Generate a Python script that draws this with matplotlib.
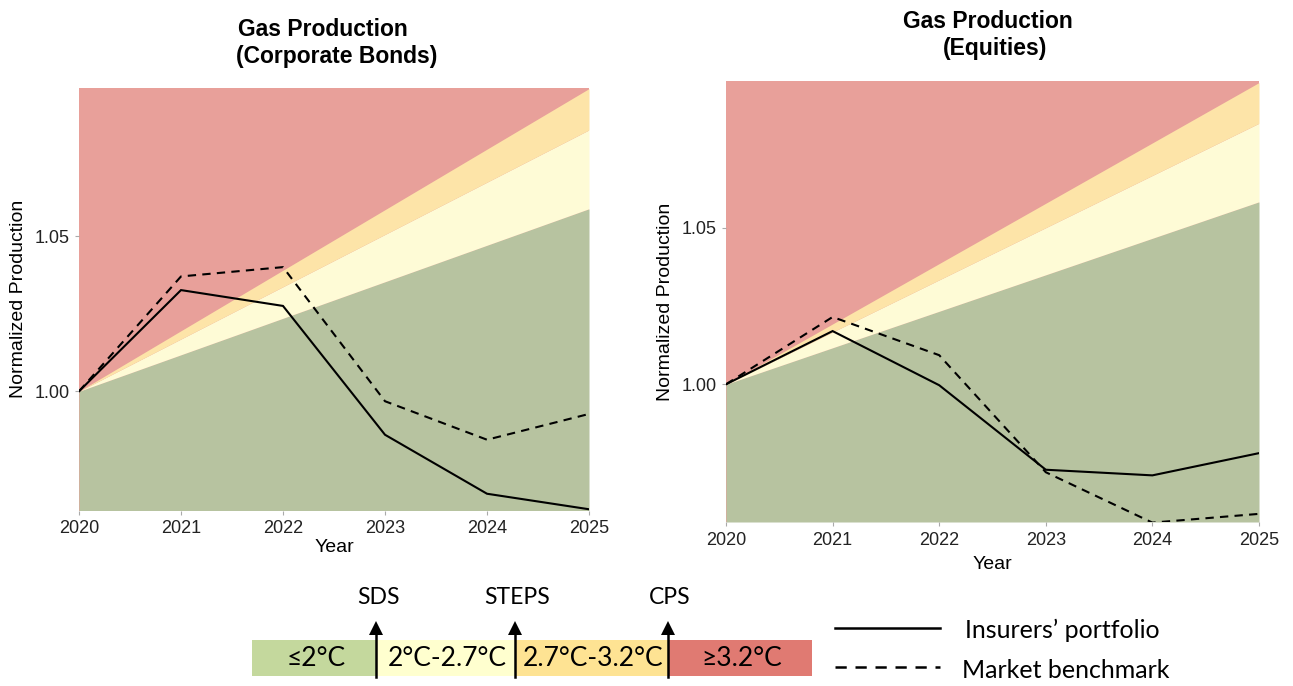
import matplotlib
matplotlib.use('Agg')
import matplotlib.pyplot as plt
from matplotlib.patches import Rectangle, Polygon

# data
years = [2020, 2021, 2022, 2023, 2024, 2025]
band_years = [2020, 2025]

# left panel: corporate bonds
bonds_portfolio = [1.000, 1.0326, 1.0275, 0.9860, 0.9670, 0.9620]
bonds_benchmark = [1.000, 1.0370, 1.0400, 0.9968, 0.9844, 0.9927]
bonds_sds = [1.000, 1.0588]
bonds_steps = [1.000, 1.0842]
bonds_cps = [1.000, 1.0975]
bonds_ylim = (0.9616, 1.0977)

# right panel: equities
eq_portfolio = [1.000, 1.0170, 0.9997, 0.9727, 0.9709, 0.9780]
eq_benchmark = [1.000, 1.0215, 1.0093, 0.9719, 0.9558, 0.9586]
eq_sds = [1.000, 1.0583]
eq_steps = [1.000, 1.0834]
eq_cps = [1.000, 1.0964]
eq_ylim = (0.9560, 1.0969)

yticks = [1.00, 1.05]
ytick_labels = ["1.00", "1.05"]

scenario_labels = ["SDS", "STEPS", "CPS"]
range_labels = ["≤2°C", "2°C-2.7°C", "2.7°C-3.2°C", "≥3.2°C"]
legend_labels = ["Insurers’ portfolio", "Market benchmark"]

# colours
c_red = "#E8A09A"
c_orange = "#FDE4A8"
c_yellow = "#FEFBD6"
c_green = "#B7C3A0"
bar_colors = ["#C4D89D", "#FFFFCF", "#FEE393", "#E07A72"]

plt.rcParams['font.family'] = ['Liberation Sans', 'DejaVu Sans']

fig = plt.figure(figsize=(12.93, 6.86), dpi=100)
W, H = 1293, 686


def panel(rect, ylim, sds, steps, cps, port, bench):
    ax = fig.add_axes(rect)
    ax.set_facecolor(c_red)
    ax.fill_between(band_years, ylim[0], sds, color=c_green, lw=0)
    ax.fill_between(band_years, sds, steps, color=c_yellow, lw=0)
    ax.fill_between(band_years, steps, cps, color=c_orange, lw=0)
    ax.plot(years, port, color="black", lw=1.5, solid_joinstyle="miter")
    ax.plot(years, bench, color="black", lw=1.5, linestyle=(0, (4, 3)))
    ax.set_xlim(2020, 2025)
    ax.set_ylim(*ylim)
    ax.set_xticks(years)
    ax.set_xticklabels([str(y) for y in years])
    ax.set_yticks(yticks)
    ax.set_yticklabels(ytick_labels)
    for s in ax.spines.values():
        s.set_visible(False)
    ax.tick_params(length=3, width=0.8, color="#aaaaaa", labelsize=13,
                   labelcolor="#222222", pad=4)
    ax.set_xlabel("Year", fontsize=14, labelpad=1)
    ax.set_ylabel("Normalized Production", fontsize=14, labelpad=5)
    return ax


ax1 = panel([79 / W, 1 - 510.5 / H, 510 / W, 422.5 / H], bonds_ylim,
            bonds_sds, bonds_steps, bonds_cps, bonds_portfolio, bonds_benchmark)
ax2 = panel([726 / W, 1 - 522 / H, 533 / W, 441 / H], eq_ylim,
            eq_sds, eq_steps, eq_cps, eq_portfolio, eq_benchmark)
ax2.xaxis.labelpad = 5

# titles
tkw = dict(ha="center", va="center", fontsize=16.5, fontweight="bold")
fig.text(323 / W, 1 - 30 / H, "Gas Production", **tkw)
fig.text(337 / W, 1 - 57 / H, "(Corporate Bonds)", **tkw)
fig.text(988 / W, 1 - 21 / H, "Gas Production", **tkw)
fig.text(995 / W, 1 - 48 / H, "(Equities)", **tkw)

# legend at the bottom, drawn in pixel coordinates
lg = fig.add_axes([0, 0, 1, 1], zorder=-1)
lg.set_xlim(0, W)
lg.set_ylim(H, 0)
lg.axis("off")
lfont = ['Lato', 'DejaVu Sans']

edges = [252, 376, 515, 668, 812]
for i in range(4):
    lg.add_patch(Rectangle((edges[i], 640), edges[i + 1] - edges[i], 36,
                           color=bar_colors[i], lw=0))
    lg.text((edges[i] + edges[i + 1]) / 2 + 2, 659, range_labels[i],
            ha="center", va="center", fontsize=19, family=lfont)

for x, lab in zip(edges[1:4], scenario_labels):
    lg.plot([x, x], [677, 633], color="black", lw=1.8)
    lg.add_patch(Polygon([[x - 7, 635], [x + 7, 635], [x, 621]],
                         closed=True, color="black", lw=0))
    lg.text(x + 2, 598, lab, ha="center", va="center", fontsize=16.5,
            family=lfont)

lg.plot([835, 940], [628, 628], color="black", lw=1.8)
lg.plot([835, 940], [667, 667], color="black", lw=1.8, linestyle=(0, (4.5, 3.5)))
lg.text(965, 630, legend_labels[0], ha="left", va="center", fontsize=18,
        family=lfont)
lg.text(962, 670, legend_labels[1], ha="left", va="center", fontsize=18,
        family=lfont)

fig.savefig("out.png", dpi=100)
